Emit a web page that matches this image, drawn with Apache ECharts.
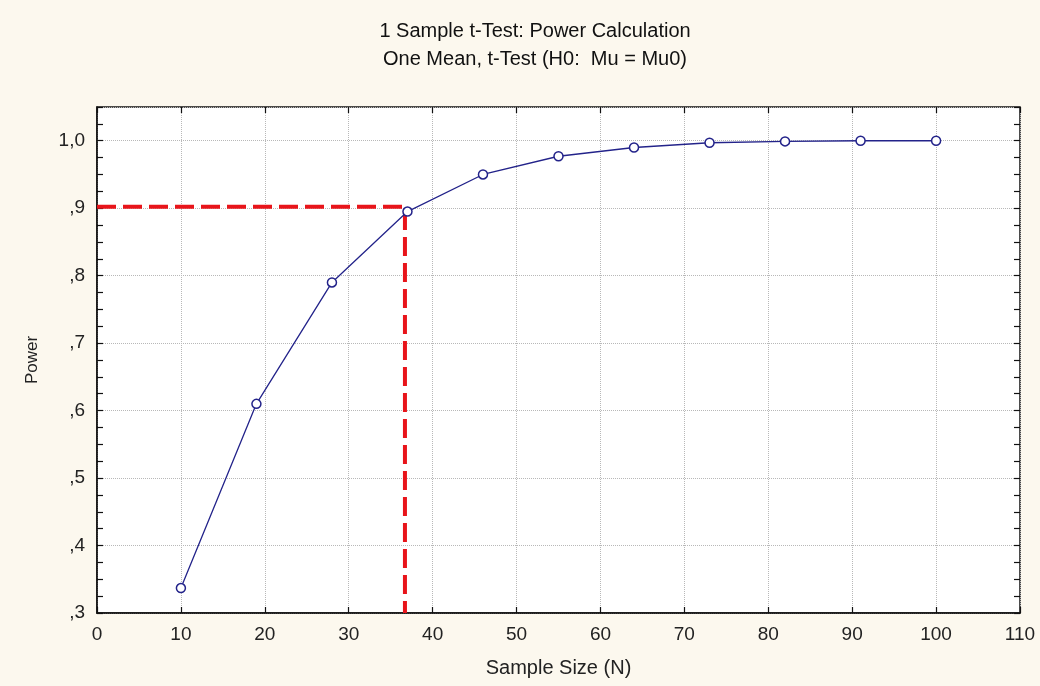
<!DOCTYPE html>
<html>
<head>
<meta charset="utf-8">
<script src="https://cdn.jsdelivr.net/npm/echarts@6/dist/echarts.min.js"></script>
<style>
html,body{margin:0;padding:0;background:#fcf8ee;}
#c{width:1040px;height:686px;}
</style>
</head>
<body>
<div id="c"></div>
<script>
const sampleSizes = [10, 19, 28, 37, 46, 55, 64, 73, 82, 91, 100];
const powerValues = [0.337, 0.610, 0.790, 0.895, 0.950, 0.977, 0.990, 0.997, 0.999, 1.0, 1.0];
const targetPower = 0.902;
const targetN = 36.7;
const xTicks = [0, 10, 20, 30, 40, 50, 60, 70, 80, 90, 100, 110];
const yTickLabels = [',3', ',4', ',5', ',6', ',7', ',8', ',9', '1,0'];

const FONT = '"Liberation Sans", Arial, sans-serif';
const chart = echarts.init(document.getElementById('c'), null, {renderer: 'canvas'});

const yLabelFor = v => {
  const idx = Math.round((v - 0.3) * 10);
  return yTickLabels[idx] !== undefined ? yTickLabels[idx] : '';
};

chart.setOption({
  backgroundColor: '#fcf8ee',
  animation: false,
  title: [
    {text: '1 Sample t-Test: Power Calculation', left: 530, top: 16, textAlign: 'center',
     textStyle: {fontFamily: FONT, fontSize: 20, fontWeight: 'normal', color: '#111'}},
    {text: 'One Mean, t-Test (H0:  Mu = Mu0)', left: 530, top: 44, textAlign: 'center',
     textStyle: {fontFamily: FONT, fontSize: 20, fontWeight: 'normal', color: '#111'}}
  ],
  grid: {left: 97, right: 20, top: 107, bottom: 73, show: true, backgroundColor: '#ffffff',
         borderColor: '#111', borderWidth: 1.5, containLabel: false},
  xAxis: [
    {type: 'value', min: xTicks[0], max: xTicks[xTicks.length - 1], interval: 10, position: 'bottom',
     name: 'Sample Size (N)', nameLocation: 'middle', nameGap: 45,
     nameTextStyle: {fontFamily: FONT, fontSize: 20, color: '#222'},
     axisLine: {show: true, lineStyle: {color: '#111', width: 1.5}},
     axisTick: {show: true, inside: true, length: 6, lineStyle: {color: '#111', width: 1.2}},
     axisLabel: {fontFamily: FONT, fontSize: 19, color: '#222', margin: 12},
     splitLine: {show: true, lineStyle: {color: '#b8b8b8', type: 'dotted', width: 1}}},
    {type: 'value', min: xTicks[0], max: xTicks[xTicks.length - 1], interval: 10, position: 'top',
     axisLine: {show: false},
     axisTick: {show: true, inside: true, length: 6, lineStyle: {color: '#111', width: 1.2}},
     axisLabel: {show: false}, splitLine: {show: false}}
  ],
  yAxis: [
    {type: 'value', min: 0.3, max: 1.05, interval: 0.1, position: 'left',
     name: 'Power', nameLocation: 'middle', nameGap: 56, nameRotate: 90,
     nameTextStyle: {fontFamily: FONT, fontSize: 17, color: '#222'},
     axisLine: {show: true, lineStyle: {color: '#111', width: 1.5}},
     axisTick: {show: false},
     axisLabel: {fontFamily: FONT, fontSize: 19, color: '#222', margin: 12, showMaxLabel: false,
                 formatter: yLabelFor},
     splitLine: {show: true, lineStyle: {color: '#b8b8b8', type: 'dotted', width: 1}}},
    {type: 'value', min: 0.3, max: 1.05, interval: 0.025, position: 'left',
     axisLine: {show: false},
     axisTick: {show: true, inside: true, length: 6, lineStyle: {color: '#111', width: 1.2}},
     axisLabel: {show: false}, splitLine: {show: false}},
    {type: 'value', min: 0.3, max: 1.05, interval: 0.025, position: 'right',
     axisLine: {show: false},
     axisTick: {show: true, inside: true, length: 6, lineStyle: {color: '#111', width: 1.2}},
     axisLabel: {show: false}, splitLine: {show: false}}
  ],
  series: [
    {type: 'line', xAxisIndex: 0, yAxisIndex: 0, silent: true, symbol: 'none', z: 3,
     data: [[xTicks[0], targetPower], [targetN, targetPower], [targetN, 0.3]],
     lineStyle: {color: '#e8141a', width: 4, type: [19, 7]}},
    {type: 'line', xAxisIndex: 0, yAxisIndex: 0, z: 5,
     data: sampleSizes.map((n, i) => [n, powerValues[i]]),
     symbol: 'circle', symbolSize: 9,
     lineStyle: {color: '#23238a', width: 1.3},
     itemStyle: {color: '#ffffff', borderColor: '#23238a', borderWidth: 1.5}}
  ]
});
</script>
</body>
</html>
